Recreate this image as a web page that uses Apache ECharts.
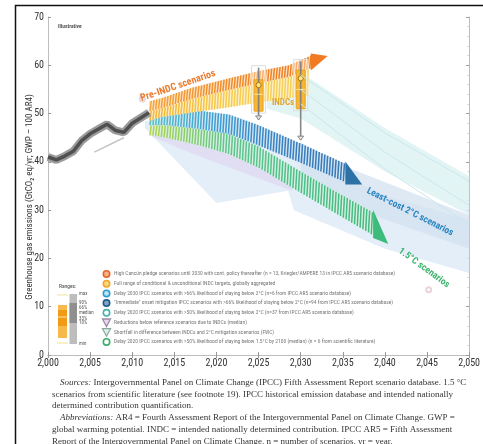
<!DOCTYPE html>
<html>
<head>
<meta charset="utf-8">
<script src="https://cdn.jsdelivr.net/npm/echarts@6/dist/echarts.min.js"></script>
<style>
html, body { margin: 0; padding: 0; background: #fff; }
#main { width: 483px; height: 444px; }
</style>
</head>
<body>
<div id="main"></div>
<script>
// historical emissions (GtCO2eq/yr)
var histYears = [2000, 2001, 2002, 2003, 2004, 2005, 2006, 2007, 2008, 2009, 2010, 2011, 2012];
var histValues = [41, 40.4, 41.2, 42.2, 44.4, 45.8, 46.8, 47.8, 46.5, 46.1, 48, 49.1, 50.2];
var histLowYears = [2005.5, 2009];
var histLowValues = [42, 45];

// pre-INDC (orange) and INDC (yellow) fans
var preYears = [2012, 2013.5, 2017, 2021.5, 2025, 2028.6, 2031.2];
var preLow = [50.5, 51.1, 53, 54.9, 56.3, 57.6, 59.4];
var preHigh = [52.5, 53.2, 55.3, 57.3, 58.8, 60, 62];
var preTip = [2033.2, 61.9];
var indcBandYears = [2012, 2013.5, 2017, 2021.5, 2025, 2028.6, 2031];
var indcBandLow = [48.5, 49.3, 50.2, 51.3, 52.3, 53.2, 53.8];
var indcBandHigh = [50.5, 51.1, 53, 54.9, 56.3, 57.6, 59.2];

// least-cost 2C (blue) and 1.5C (green) fans
var blueYears = [2012, 2014, 2018, 2021.5, 2025, 2030, 2035.3];
var blueHigh = [49.6, 50.4, 50.6, 49.8, 47.6, 43.8, 39.6];
var blueLow = [47.6, 47.6, 46.8, 45.8, 43.4, 39.8, 35.8];
var blueTip = [2037.3, 35.3];
var greenYears = [2012, 2014, 2018, 2021.5, 2025, 2030, 2034, 2038.6];
var greenHigh = [47.6, 47.6, 46.8, 45.8, 43.2, 38, 34, 29.5];
var greenLow = [45.6, 45, 43.4, 41.6, 38.8, 33.6, 29.5, 24.8];
var greenTip = [2040.4, 23];

// pale scenario ranges
var paleBlueYears = [2011.5, 2020, 2028.5, 2029.2, 2040, 2050];
var paleBlueHigh = [48.5, 47, 43, 42, 33, 28];
var paleBlueLow = [47, 31.5, 34, 30, 22, 17];
var lavenderYears = [2012, 2016, 2022, 2029];
var lavenderHigh = [47, 45.5, 42, 37];
var lavenderLow = [45.5, 42.5, 38.5, 34];
var cyanYears = [2026, 2030, 2040, 2050];
var cyanHigh = [59, 58.5, 47, 37];
var cyanLow = [51, 49, 38, 29];
var steelYears = [2030, 2036, 2050];
var steelHigh = [44, 38.5, 29];
var steelLow = [37, 30.5, 22];
var trailYears = [2030, 2040, 2050];
var trailA = [58, 46, 36];
var trailB = [55, 42, 31];
var trailC = [52, 38.5, 27];

// INDC ranges
var indcYears = [2025, 2030];
var indcMin = [48.7, 44.5];
var indcLow = [50.5, 51];
var indcMid = [54, 55];
var indcHigh = [57, 59];
var indcMax = [59.5, 60.8];
var indcMark = [55.9, 57.3];

var legendLabels = [
    'High Cancún pledge scenarios until 2030 with cont. policy thereafter (n = 13, Kriegler/AMPERE 13 in IPCC AR5 scenario database)',
    'Full range of conditional & unconditional INDC targets, globally aggregated',
    'Delay 2030 IPCC scenarios with >66% likelihood of staying below 2°C (n=6 from IPCC AR5 scenario database)',
    '"Immediate" onset mitigation IPCC scenarios with >66% likelihood of staying below 2°C (n=94 from IPCC AR5 scenario database)',
    'Delay 2020 IPCC scenarios with >50% likelihood of staying below 2°C (n=37 from IPCC AR5 scenario database)',
    'Reductions below reference scenarios due to INDCs (median)',
    'Shortfall in difference between INDCs and 2°C mitigation scenarios (FWC)',
    'Delay 2020 IPCC scenarios with >50% likelihood of staying below 1.5°C by 2100 (median) (n = 6 from scientific literature)'
];
var rangeLabels = ['max', '90%', '66%', 'median', '33%', '10%', 'min'];
var captionLines = [
    '{i|Sources:} Intergovernmental Panel on Climate Change (IPCC) Fifth Assessment Report scenario database. 1.5 °C',
    'scenarios from scientific literature (see footnote 19). IPCC historical emission database and intended nationally',
    'determined contribution quantification.',
    '{i|Abbreviations:} AR4 = Fourth Assessment Report of the Intergovernmental Panel on Climate Change. GWP =',
    'global warming potential. INDC = intended nationally determined contribution. IPCC AR5 = Fifth Assessment',
    'Report of the Intergovernmental Panel on Climate Change. n = number of scenarios. yr = year.'
];

var NARROW = "'Liberation Sans Narrow', 'Roboto Condensed', 'Liberation Sans', sans-serif";
var SERIF = "'Liberation Serif', 'DejaVu Serif', serif";

function toRgb(h) {
    return [parseInt(h.substr(1, 2), 16), parseInt(h.substr(3, 2), 16), parseInt(h.substr(5, 2), 16)];
}
function mixColor(stops, t) {
    if (t <= 0) return stops[0];
    if (t >= 1) return stops[stops.length - 1];
    var f = t * (stops.length - 1), i = Math.floor(f), r = f - i;
    var a = toRgb(stops[i]), b = toRgb(stops[i + 1]);
    return 'rgb(' + [0, 1, 2].map(function (k) { return Math.round(a[k] + (b[k] - a[k]) * r); }).join(',') + ')';
}
// y on a pixel polyline at pixel x
function yAt(pts, px) {
    if (px <= pts[0][0]) return pts[0][1];
    for (var i = 0; i < pts.length - 1; i++) {
        if (px <= pts[i + 1][0]) {
            var r = (px - pts[i][0]) / (pts[i + 1][0] - pts[i][0]);
            return pts[i][1] + (pts[i + 1][1] - pts[i][1]) * r;
        }
    }
    return pts[pts.length - 1][1];
}

// a band between lo and hi, optionally hatched and with an arrow head
function bandSeries(xs, lo, hi, opt) {
    return {
        type: 'custom',
        silent: true,
        data: xs.map(function (x, i) { return [x, lo[i], hi[i]]; }),
        renderItem: function (params, api) {
            if (params.dataIndex !== 0) return null;
            var pl = [], ph = [];
            xs.forEach(function (x, i) {
                pl.push(api.coord([x, lo[i]]));
                ph.push(api.coord([x, hi[i]]));
            });
            var kids = [{
                type: 'polygon',
                shape: { points: ph.concat(pl.slice().reverse()) },
                style: { fill: opt.fill, opacity: opt.opacity == null ? 1 : opt.opacity }
            }];
            if (opt.stripes) {
                var x0 = pl[0][0], x1 = pl[pl.length - 1][0];
                for (var px = x0 + 1; px <= x1 - 0.5; px += 2.8) {
                    var px2 = Math.min(px + opt.tilt, x1);
                    kids.push({
                        type: 'line',
                        shape: { x1: px, y1: yAt(pl, px), x2: px2, y2: yAt(ph, px2) },
                        style: { stroke: mixColor(opt.stripes, (px - x0) / (x1 - x0)), lineWidth: 1.5 }
                    });
                }
            }
            if (opt.tip) {
                var n = pl.length - 1;
                var c = [(pl[n][0] + ph[n][0]) / 2, (pl[n][1] + ph[n][1]) / 2];
                var k = opt.head || 1.5;
                kids.push({
                    type: 'polygon',
                    shape: { points: [
                        [c[0] + (ph[n][0] - c[0]) * k, c[1] + (ph[n][1] - c[1]) * k],
                        api.coord(opt.tip),
                        [c[0] + (pl[n][0] - c[0]) * k, c[1] + (pl[n][1] - c[1]) * k]
                    ] },
                    style: { fill: opt.tipColor }
                });
            }
            return { type: 'group', children: kids };
        }
    };
}

function pairs(xs, ys) {
    return xs.map(function (x, i) { return [x, ys[i]]; });
}
function trail(ys) {
    return {
        type: 'line', silent: true, showSymbol: false, data: pairs(trailYears, ys),
        lineStyle: { color: '#c9e8ec', width: 1 }
    };
}

var graphics = [];
// outer frame
graphics.push({ type: 'rect', silent: true, z: 100, shape: { x: 15.5, y: 5.5, width: 520, height: 500 },
    style: { fill: 'none', stroke: '#111', lineWidth: 1.5 } });
graphics.push({ type: 'text', x: 58, y: 27, silent: true,
    style: { text: 'Illustrative', fill: '#555', fontSize: 5.5, fontWeight: 'bold', fontFamily: NARROW, verticalAlign: 'middle' } });
graphics.push({ type: 'text', x: 30, y: 197, rotation: Math.PI / 2, silent: true,
    style: { text: 'Greenhouse gas emissions (GtCO₂ eq/yr; GWP – 100 AR4)', fill: '#333', fontSize: 9,
        fontFamily: NARROW, align: 'center', verticalAlign: 'middle' } });

// fan labels, above the series
graphics.push({ type: 'text', x: 178, y: 86, rotation: 0.33, silent: true, z: 50,
    style: { text: 'Pre-INDC scenarios', fill: '#ea7a2c', fontSize: 10, fontWeight: 'bold', fontFamily: NARROW, align: 'center', verticalAlign: 'middle' } });
graphics.push({ type: 'text', x: 410, y: 212, rotation: -0.47, silent: true, z: 50,
    style: { text: 'Least-cost 2°C scenarios', fill: '#2b86c2', fontSize: 9.5, fontWeight: 'bold', fontFamily: NARROW, align: 'center', verticalAlign: 'middle' } });
graphics.push({ type: 'text', x: 424, y: 268, rotation: -0.63, silent: true, z: 50,
    style: { text: '1.5°C scenarios', fill: '#3db56f', fontSize: 9.5, fontWeight: 'bold', fontFamily: NARROW, align: 'center', verticalAlign: 'middle' } });
graphics.push({ type: 'text', x: 283, y: 103, silent: true, z: 50,
    style: { text: 'INDCs', fill: '#e5a52b', fontSize: 9, fontWeight: 'bold', fontFamily: NARROW, align: 'center', verticalAlign: 'middle' } });

// legend rows
var iconFill = ['#f7b08a', '#fbd77c', '#bfe3f3', '#7fa7c6', '#ffffff', '#e8d8ea', '#dfeee8', '#ffffff'];
var iconStroke = ['#e3662a', '#f2a52a', '#2a9dd0', '#1f5a8a', '#45b1ad', '#9c8aa6', '#8eaaa0', '#3aae6c'];
legendLabels.forEach(function (txt, i) {
    var y = 274 + i * 9.7;
    if (i === 5 || i === 6) {
        graphics.push({ type: 'polygon', silent: true, shape: { points: [[102.5, y - 3.5], [110.5, y - 3.5], [106.5, y + 4]] },
            style: { fill: iconFill[i], stroke: iconStroke[i], lineWidth: 1.3 } });
    } else {
        graphics.push({ type: 'circle', silent: true, shape: { cx: 106.5, cy: y, r: 3.2 },
            style: { fill: iconFill[i], stroke: iconStroke[i], lineWidth: 1.6 } });
    }
    graphics.push({ type: 'text', x: 114, y: y, silent: true,
        style: { text: txt, fill: '#777', fontSize: 5.5, fontFamily: NARROW, verticalAlign: 'middle' } });
});

// ranges key
graphics.push({ type: 'text', x: 59, y: 287, silent: true,
    style: { text: 'Ranges:', fill: '#444', fontSize: 5.5, fontFamily: NARROW, verticalAlign: 'middle' } });
graphics.push({ type: 'line', silent: true, shape: { x1: 57, y1: 295, x2: 68, y2: 295 }, style: { stroke: '#efe59a', lineWidth: 1 } });
graphics.push({ type: 'line', silent: true, shape: { x1: 57, y1: 343, x2: 68, y2: 343 }, style: { stroke: '#efe59a', lineWidth: 1 } });
graphics.push({ type: 'rect', silent: true, shape: { x: 58, y: 305, width: 9, height: 33 }, style: { fill: '#f8b94c' } });
graphics.push({ type: 'rect', silent: true, shape: { x: 58, y: 310, width: 9, height: 16 }, style: { fill: '#f29a16' } });
graphics.push({ type: 'line', silent: true, shape: { x1: 58, y1: 317, x2: 67, y2: 317 }, style: { stroke: '#fde6a6', lineWidth: 1 } });
graphics.push({ type: 'rect', silent: true, shape: { x: 69.5, y: 294, width: 7.5, height: 50 }, style: { fill: '#bdbdbd' } });
graphics.push({ type: 'rect', silent: true, shape: { x: 69.5, y: 303, width: 7.5, height: 20 }, style: { fill: '#8f8f8f' } });
var rangeY = [294, 303, 307.5, 313, 318.5, 323, 344];
rangeLabels.forEach(function (t, i) {
    graphics.push({ type: 'text', x: 79, y: rangeY[i], silent: true,
        style: { text: t, fill: '#555', fontSize: 5, fontFamily: NARROW, verticalAlign: 'middle' } });
});

// caption
captionLines.forEach(function (t, i) {
    var indent = (i === 0 || i === 3) ? 60 : 52;
    graphics.push({ type: 'text', x: indent, y: 382.5 + i * 11.75, silent: true,
        style: { text: t, fill: '#333', fontSize: 9, fontFamily: SERIF, verticalAlign: 'middle',
            rich: { i: { fontStyle: 'italic', fontSize: 9, fontFamily: SERIF, fill: '#333' } } } });
});

var axisCommon = {
    axisLine: { show: true, lineStyle: { color: '#bdbdbd', width: 1 } },
    axisTick: { show: true, inside: true, length: 3, lineStyle: { color: '#999' } },
    minorTick: { show: true, splitNumber: 5, length: 1.5, lineStyle: { color: '#ccc' } },
    splitLine: { show: false }
};

var option = {
    backgroundColor: '#fff',
    animation: false,
    grid: { left: 48, right: 11, top: 17, bottom: 89 },
    xAxis: [
        Object.assign({
            type: 'value', min: 2000, max: 2050, interval: 5, position: 'bottom',
            axisLabel: { color: '#333', fontSize: 10, fontFamily: NARROW, margin: 3 }
        }, axisCommon, { minorTick: { show: false } }),
        Object.assign({
            type: 'value', min: 2000, max: 2050, interval: 5, position: 'top',
            axisLabel: { show: false }
        }, axisCommon, { minorTick: { show: false } })
    ],
    yAxis: [
        Object.assign({
            type: 'value', min: 0, max: 70, interval: 10, position: 'left',
            axisLabel: { color: '#333', fontSize: 10, fontFamily: NARROW, margin: 4 }
        }, axisCommon),
        Object.assign({
            type: 'value', min: 0, max: 70, interval: 10, position: 'right',
            axisLabel: { show: false }
        }, axisCommon)
    ],
    graphic: graphics,
    series: [
        bandSeries(paleBlueYears, paleBlueLow, paleBlueHigh, { fill: '#e1ecf8', opacity: 0.9 }),
        bandSeries(cyanYears, cyanLow, cyanHigh, { fill: '#dcf1f3', opacity: 0.8 }),
        bandSeries(steelYears, steelLow, steelHigh, { fill: '#d2e0ef', opacity: 0.7 }),
        bandSeries(lavenderYears, lavenderLow, lavenderHigh, { fill: '#e0dcf2', opacity: 0.9 }),
        trail(trailA),
        trail(trailB),
        trail(trailC),
        {
            type: 'scatter', silent: true, symbol: 'emptyCircle', symbolSize: 5,
            data: [[2011.2, 53], [2045.2, 13.5]],
            itemStyle: { color: '#e6c9cf', borderColor: '#d8c4c8', opacity: 0.8 }
        },
        {
            type: 'line', silent: true, showSymbol: false, data: pairs(histLowYears, histLowValues),
            lineStyle: { color: '#c4c4c4', width: 1.5 }
        },
        {
            type: 'line', silent: true, showSymbol: false, data: pairs(histYears, histValues),
            lineStyle: { color: '#9c9c9c', width: 8 }
        },
        {
            type: 'line', silent: true, showSymbol: false, data: pairs(histYears, histValues),
            lineStyle: { color: '#4f4f4f', width: 3.5 }
        },
        bandSeries(greenYears, greenLow, greenHigh, {
            fill: '#d8f1e4', stripes: ['#b5d44a', '#62c58e', '#4cc08a', '#46b97e'], tilt: 1.2,
            tip: greenTip, tipColor: '#3dbb7a', head: 1.25
        }),
        bandSeries(blueYears, blueLow, blueHigh, {
            fill: '#d3e6f5', stripes: ['#58c2c2', '#3fa0d0', '#3a80bf', '#3777b3'], tilt: 1.2,
            tip: blueTip, tipColor: '#2d72a6', head: 1.25
        }),
        bandSeries(indcBandYears, indcBandLow, indcBandHigh, {
            fill: '#fdf1c9', stripes: ['#f3b23a', '#f6cb50', '#f6d25e'], tilt: 1.2
        }),
        bandSeries(preYears, preLow, preHigh, {
            fill: '#fde3c2', stripes: ['#f3a43a', '#f08b2b', '#ef7c24'], tilt: 1.2,
            tip: preTip, tipColor: '#f07b23', head: 1.35
        }),
        {
            type: 'custom', silent: true,
            data: indcYears.map(function (y, i) {
                return [y, indcMin[i], indcLow[i], indcMid[i], indcHigh[i], indcMax[i], indcMark[i]];
            }),
            renderItem: function (params, api) {
                var x = api.value(0);
                var pMin = api.coord([x, api.value(1)]);
                var pLow = api.coord([x, api.value(2)]);
                var pMid = api.coord([x, api.value(3)]);
                var pHigh = api.coord([x, api.value(4)]);
                var pMax = api.coord([x, api.value(5)]);
                var pMark = api.coord([x, api.value(6)]);
                var w = 9;
                return {
                    type: 'group',
                    children: [
                        { type: 'rect', shape: { x: pMax[0] - 7, y: pMax[1] - 2, width: 14, height: pLow[1] - pMax[1] + 4 },
                            style: { fill: 'rgba(255,255,255,0.35)', stroke: '#dcdcdc', lineWidth: 1 } },
                        { type: 'rect', shape: { x: pHigh[0] - w / 2, y: pHigh[1], width: w, height: pLow[1] - pHigh[1] },
                            style: { fill: '#f7b733', stroke: '#eba020', lineWidth: 1 } },
                        { type: 'line', shape: { x1: pMin[0], y1: pMin[1], x2: pMax[0], y2: pMax[1] },
                            style: { stroke: '#7a7a7a', lineWidth: 1.6, opacity: 0.9 } },
                        { type: 'line', shape: { x1: pMid[0] - w / 2, y1: pMid[1], x2: pMid[0] + w / 2, y2: pMid[1] },
                            style: { stroke: '#fce3a0', lineWidth: 1 } },
                        { type: 'circle', shape: { cx: pMark[0], cy: pMark[1], r: 2.6 },
                            style: { fill: '#fde28c', stroke: '#a87512', lineWidth: 1 } },
                        { type: 'polygon', shape: { points: [[pMin[0] - 3, pMin[1] - 4], [pMin[0] + 3, pMin[1] - 4], [pMin[0], pMin[1]]] },
                            style: { fill: '#e8e8e8', stroke: '#888', lineWidth: 1 } }
                    ]
                };
            }
        }
    ]
};

var chart = echarts.init(document.getElementById('main'));
chart.setOption(option);
</script>
</body>
</html>
